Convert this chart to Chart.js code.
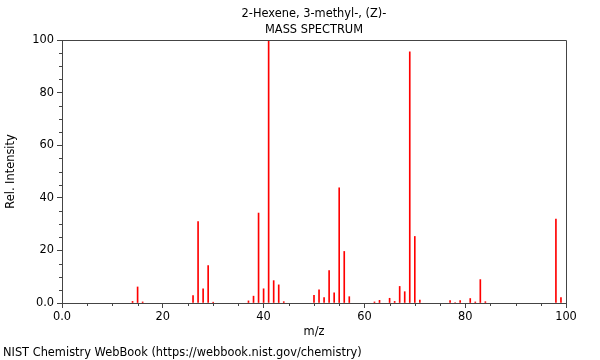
<!DOCTYPE html>
<html>
<head>
<meta charset="utf-8">
<script src="https://cdn.jsdelivr.net/npm/chart.js@4/dist/chart.umd.min.js"></script>
<style>
  html, body { margin: 0; padding: 0; background: #fff; }
  #wrap { width: 600px; height: 360px; position: relative; }
</style>
</head>
<body>
<div id="wrap"><canvas id="ms"></canvas></div>
<script>
// Datos del espectro (m/z e intensidad relativa)
const mz = [14, 15, 16, 26, 27, 28, 29, 30, 37, 38, 39, 40, 41, 42, 43, 44, 50, 51, 52, 53, 54, 55, 56, 57,
            62, 63, 65, 66, 67, 68, 69, 70, 71, 77, 78, 79, 81, 82, 83, 84, 98, 99];
const intensity = [0.6, 6.1, 0.4, 2.8, 31, 5.4, 14.2, 0.3, 0.8, 2.6, 34.2, 5.4, 100, 8.5, 6.9, 0.5, 2.9, 5, 2.1, 12.3, 3.9, 43.8, 19.6, 2.4,
                   0.4, 1, 1.8, 0.6, 6.3, 4.3, 95.5, 25.3, 1.1, 0.9, 0.2, 0.9, 1.7, 0.4, 8.9, 0.5, 31.9, 2.1];
const titleLines = ['2-Hexene, 3-methyl-, (Z)-', 'MASS SPECTRUM'];
const footerText = 'NIST Chemistry WebBook (https://webbook.nist.gov/chemistry)';
const xTicks = [0, 20, 40, 60, 80, 100];
const yTicks = [0, 20, 40, 60, 80, 100];

const FONT = 'DejaVu Sans';
const FSIZE = 11.4;
const AXIS = '#444';

// Titulos, pie, marco y ticks menores
const decoPlugin = {
    id: 'deco',
    afterDraw(chart) {
        const ctx = chart.ctx;
        const a = chart.chartArea;
        const xs = chart.scales.x;
        const ys = chart.scales.y;
        ctx.save();
        ctx.fillStyle = '#000';
        ctx.font = FSIZE + 'px "' + FONT + '"';
        ctx.textAlign = 'center';
        ctx.textBaseline = 'middle';
        ctx.fillText(titleLines[0], (a.left + a.right) / 2, 14);
        ctx.fillText(titleLines[1], (a.left + a.right) / 2, 30);
        ctx.textAlign = 'left';
        ctx.fillText(footerText, 3, 353);

        ctx.strokeStyle = AXIS;
        ctx.lineWidth = 1;
        ctx.beginPath();
        ctx.moveTo(a.left, a.top + 0.5);
        ctx.lineTo(a.right + 0.5, a.top + 0.5);
        ctx.lineTo(a.right + 0.5, a.bottom);
        ctx.stroke();

        ctx.beginPath();
        for (let v = 5; v < 100; v += 5) {
            if (v % 20 === 0) continue;
            const px = Math.round(xs.getPixelForValue(v)) + 0.5;
            ctx.moveTo(px, a.bottom);
            ctx.lineTo(px, a.bottom + 3);
            const py = Math.round(ys.getPixelForValue(v)) + 0.5;
            ctx.moveTo(a.left, py);
            ctx.lineTo(a.left - 3, py);
        }
        ctx.stroke();
        ctx.restore();
    }
};

const fmt = (v) => (v === 0 ? '0.0' : String(v));

new Chart(document.getElementById('ms'), {
    type: 'bar',
    data: {
        datasets: [{
            data: mz.map((m, i) => ({ x: m, y: intensity[i] })),
            backgroundColor: '#ff0000',
            borderWidth: 0,
            barThickness: 1
        }]
    },
    options: {
        responsive: true,
        maintainAspectRatio: false,
        animation: false,
        layout: { padding: { top: 40, right: 34, bottom: 17, left: 0 } },
        plugins: {
            legend: { display: false },
            tooltip: { enabled: false }
        },
        scales: {
            x: {
                type: 'linear',
                min: 0,
                max: 100,
                offset: false,
                afterBuildTicks: (s) => { s.ticks = xTicks.map(v => ({ value: v })); },
                afterFit: (s) => { s.height = 40; },
                grid: { display: true, drawOnChartArea: false, offset: false, tickLength: 5, color: AXIS },
                border: { color: AXIS },
                ticks: { color: '#000', font: { family: FONT, size: FSIZE }, padding: 2, maxRotation: 0, callback: fmt },
                title: { display: true, text: 'm/z', color: '#000', font: { family: FONT, size: FSIZE }, padding: { top: 2, bottom: 4 } }
            },
            y: {
                min: 0,
                max: 100,
                afterBuildTicks: (s) => { s.ticks = yTicks.map(v => ({ value: v })); },
                afterFit: (s) => { s.width = 62; },
                grid: { display: true, drawOnChartArea: false, tickLength: 5, color: AXIS },
                border: { color: AXIS },
                ticks: { color: '#000', font: { family: FONT, size: FSIZE }, padding: 3, callback: fmt },
                title: { display: true, text: 'Rel. Intensity', color: '#000', font: { family: FONT, size: FSIZE }, padding: { top: 4, bottom: 0 } }
            }
        }
    },
    plugins: [decoPlugin]
});
</script>
</body>
</html>
